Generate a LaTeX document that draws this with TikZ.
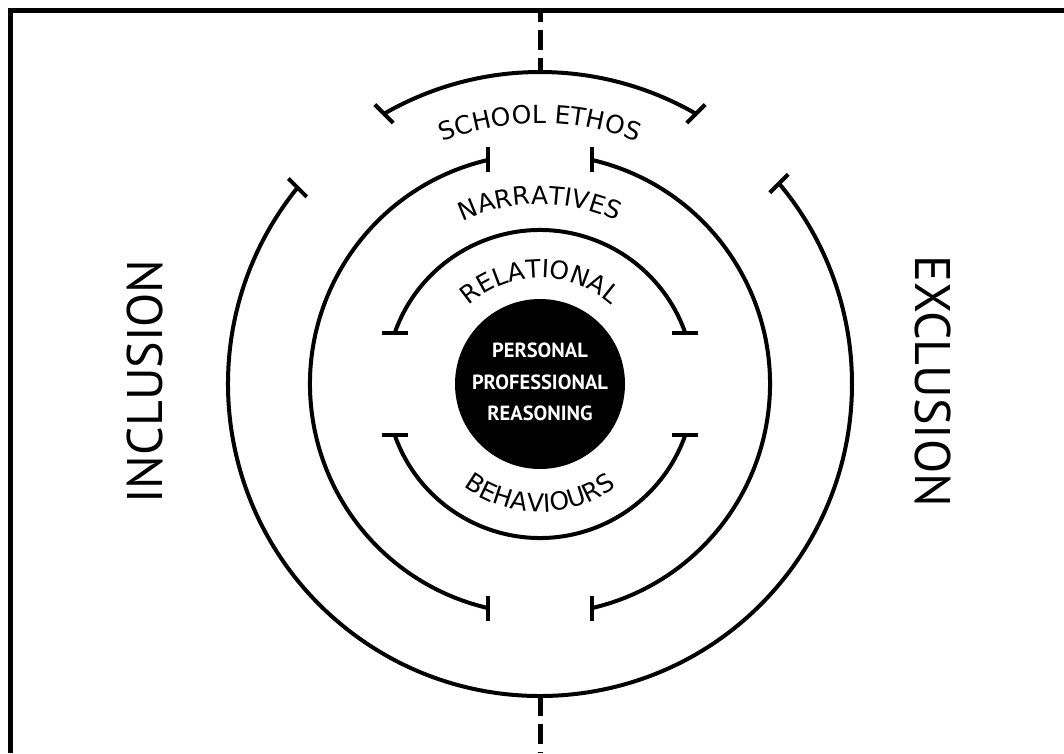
\documentclass[tikz,border=0pt]{standalone}
\usepackage{fontspec}
\setmainfont{PT Sans}
\newfontfamily\arcfamily{DejaVu Sans}
\usetikzlibrary{decorations.text}
\newcommand\arcfont{\arcfamily\fontsize{25}{25}\selectfont}
\begin{document}
\begin{tikzpicture}[x=1pt,y=1pt,
  ring/.style={line width=4pt},
  tbar/.style={line width=4pt},
  dashline/.style={line width=5pt, dash pattern=on 20pt off 8pt},
  sidelabel/.style={font=\fontsize{50}{50}\selectfont, inner sep=0pt},
  arctext/.style={decorate, decoration={text along path, text align=center, text={|\arcfont|#1}}}]
\useasboundingbox (-540,-369) rectangle (524,384);
% frame
\draw[line width=5pt, line join=miter] (-529.5,-369) -- (-529.5,373.5) -- (524,373.5);
\coordinate (ftop) at (0,373.5);
\coordinate (fbot) at (0,-369);
% outer ring
\draw[ring] (120:312) coordinate (otl) arc[start angle=120, end angle=60, radius=312] coordinate (otr);
\draw[ring] (141:312) coordinate (osl) arc[start angle=141, end angle=400, radius=312] coordinate (osr);
\draw[tbar] (otl) ++(-9.2,9.2) -- ++(18.4,-18.4);
\draw[tbar] (otr) ++(-9.2,-9.2) -- ++(18.4,18.4);
\draw[tbar] (osl) ++(-9.2,9.2) -- ++(18.4,-18.4);
\draw[tbar] (osr) ++(-9.2,-9.2) -- ++(18.4,18.4);
\coordinate (otop) at (90:312);
\coordinate (obot) at (270:312);
% middle ring
\draw[ring] (103:230) coordinate (mtl) arc[start angle=103, end angle=257, radius=230] coordinate (mbl);
\draw[ring] (77:230) coordinate (mtr) arc[start angle=77, end angle=-77, radius=230] coordinate (mbr);
\foreach \c in {mtl,mbl,mtr,mbr} \draw[tbar] (\c) ++(0,12.5) -- ++(0,-25);
% inner ring
\draw[ring] (160.6:154) coordinate (itl) arc[start angle=160.6, end angle=19.4, radius=154] coordinate (itr);
\draw[ring] (199.4:154) coordinate (ibl) arc[start angle=199.4, end angle=340.6, radius=154] coordinate (ibr);
\foreach \c in {itl,itr,ibl,ibr} \draw[tbar] (\c) ++(-13,0) -- ++(26,0);
% dashed axis
\draw[dashline, dash phase=8.5pt] (ftop) -- (otop);
\draw[dashline] (obot) -- (fbot);
% centre
\fill (0,0) circle (85);
\node[text=white, align=center, font=\bfseries\fontsize{20.5}{31.5}\selectfont] (core) at (0,2) {PERSONAL\\PROFESSIONAL\\REASONING};
% curved labels
\path[arctext={SCHOOL ETHOS}] (125:261) arc[start angle=125, end angle=55, radius=261];
\path[arctext={NARRATIVES}] (130:180) arc[start angle=130, end angle=50, radius=180];
\path[arctext={RELATIONAL}] (160:106) arc[start angle=160, end angle=20, radius=106];
\path[arctext={BEHAVIOURS}] (200:128) arc[start angle=200, end angle=340, radius=128];
% side labels
\node[sidelabel, rotate=90] (incl) at (-394.5,2.5) {INCLUSION};
\node[sidelabel, rotate=-90] (excl) at (393,2.5) {EXCLUSION};
\end{tikzpicture}
\end{document}
